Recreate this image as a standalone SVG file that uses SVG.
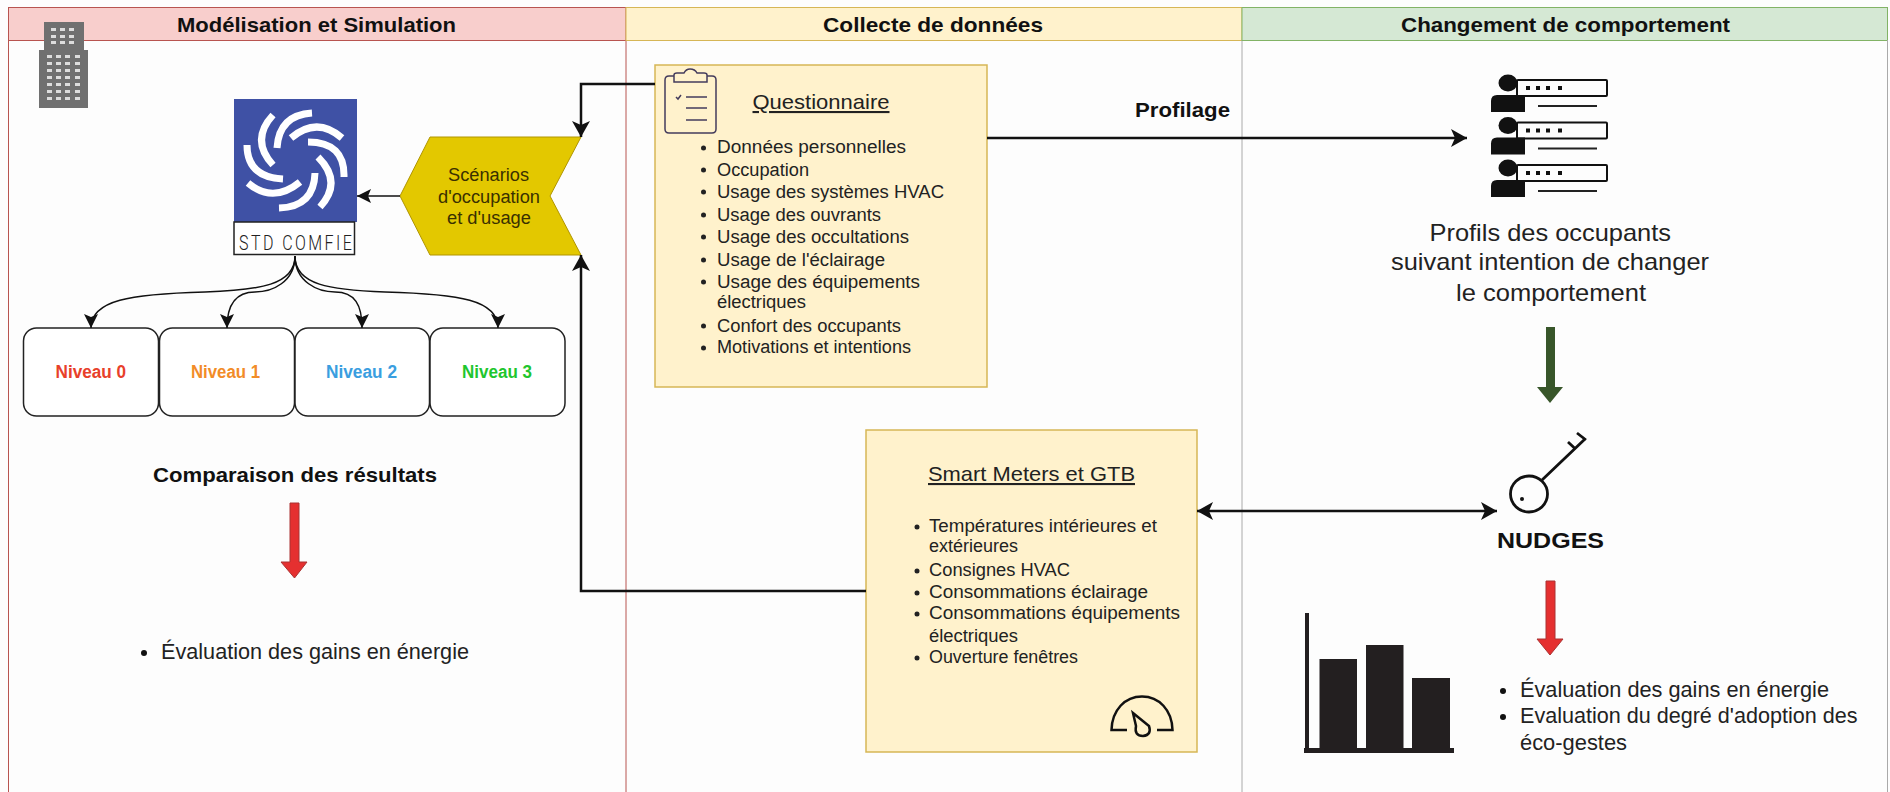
<svg xmlns="http://www.w3.org/2000/svg" width="1890" height="792" viewBox="0 0 1890 792">
<style>
text{font-family:"Liberation Sans",Arial,sans-serif;fill:#1c1c1c}
.h{font-size:21px;font-weight:700;fill:#111}
.l{font-size:18px;fill:#222}
.t{font-size:21px;fill:#222;text-decoration:underline}
.p{font-size:24px;fill:#222}
.e{font-size:22px;fill:#222}
.n{font-size:18px;font-weight:700}
.s{font-size:18px;fill:#3a3000}
.box{fill:#fff2cc;stroke:#d6b656;stroke-width:1.5}
.lvl{fill:#fff;stroke:#222;stroke-width:1.5}
.c{fill:none;stroke:#111;stroke-width:1.5}
.c2{fill:none;stroke:#111;stroke-width:2.5}
.w{fill:none;stroke:#fff;stroke-width:7}
.ic{fill:none;stroke:#111;stroke-width:2}
.k{fill:#111}
</style>
<defs>
<marker id="a" markerUnits="userSpaceOnUse" markerWidth="20" markerHeight="20" refX="16" refY="9" orient="auto-start-reverse" viewBox="0 0 20 18"><path d="M0 0L16 9L0 18L4 9Z" fill="#111"/></marker>
<marker id="b" markerUnits="userSpaceOnUse" markerWidth="18" markerHeight="18" refX="14" refY="7" orient="auto-start-reverse" viewBox="0 0 18 14"><path d="M0 0L14 7L0 14L3 7Z" fill="#111"/></marker>
</defs>
<rect width="1890" height="792" fill="#fdfdfd"/>

<g id="pool-modelisation">
<rect x="8.5" y="7.5" width="617.5" height="33" fill="#f8cecc" stroke="#b85450"/>
<path d="M8.5 40V792M626 40V792" fill="none" stroke="#b85450" stroke-width="1"/>
<text class="h" x="177" y="32" textLength="279" lengthAdjust="spacingAndGlyphs">Modélisation et Simulation</text>
</g>
<g id="pool-collecte">
<rect x="626" y="7.5" width="616" height="33" fill="#fff2cc" stroke="#d6b656"/>
<path d="M1242 40V792" fill="none" stroke="#aaa" stroke-width="1"/>
<text class="h" x="823" y="32" textLength="220" lengthAdjust="spacingAndGlyphs">Collecte de données</text>
</g>
<g id="pool-changement">
<rect x="1242" y="7.5" width="645.500" height="33" fill="#d5e8d4" stroke="#82b366"/>
<path d="M1887.500 40V792" fill="none" stroke="#aaa" stroke-width="1"/>
<text class="h" x="1401" y="32" textLength="329" lengthAdjust="spacingAndGlyphs">Changement de comportement</text>
</g>

<g id="building">
<path d="M44 22H84V50H88V108H39V50H44Z" fill="#707070"/>
<path fill="#ddd" d="M51 28h5v3h-5zM60 28h5v3h-5zM69 28h5v3h-5zM51 35h5v3h-5zM60 35h5v3h-5zM69 35h5v3h-5zM51 41h5v3h-5zM60 41h5v3h-5zM69 41h5v3h-5z"/>
<path fill="#ddd" d="M47 55h5v3h-5zM56 55h5v3h-5zM65 55h5v3h-5zM75 55h5v3h-5zM47 62h5v3h-5zM56 62h5v3h-5zM65 62h5v3h-5zM75 62h5v3h-5zM47 69h5v3h-5zM56 69h5v3h-5zM65 69h5v3h-5zM75 69h5v3h-5zM47 76h5v3h-5zM56 76h5v3h-5zM65 76h5v3h-5zM75 76h5v3h-5zM47 83h5v3h-5zM56 83h5v3h-5zM65 83h5v3h-5zM75 83h5v3h-5zM47 90h5v3h-5zM56 90h5v3h-5zM65 90h5v3h-5zM75 90h5v3h-5zM47 97h5v3h-5zM56 97h5v3h-5zM65 97h5v3h-5zM75 97h5v3h-5z"/>
</g>

<g id="std-comfie">
<rect x="234" y="99" width="123" height="123" fill="#3f51a5"/>
<path class="w" d="M273 115Q250 140 273 165M312 113Q279 115 277 148M291 138Q317 116 342 138M308 142Q345 142 344 177M318 157Q343 182 320 207M315 173Q314 207 279 208M300 182Q273 204 248 183M283 179Q247 177 247 145"/>
<rect x="234" y="222" width="120.500" height="32.500" fill="#fff" stroke="#222" stroke-width="1.500"/>
<text transform="translate(239 250) scale(.8 1)" x="0" y="0" font-size="20" style="font-family:Roboto,'Liberation Sans',sans-serif;font-weight:300;fill:#222" textLength="141" lengthAdjust="spacing">STD COMFIE</text>
</g>

<g id="scenarios">
<path d="M581 137H430L400 196L430 255H581L550 196Z" fill="#e3c800" stroke="#b09500"/>
<text class="s" x="448" y="181" textLength="81" lengthAdjust="spacingAndGlyphs">Scénarios</text>
<text class="s" x="438" y="203" textLength="102" lengthAdjust="spacingAndGlyphs">d'occupation</text>
<text class="s" x="447" y="224" textLength="84" lengthAdjust="spacingAndGlyphs">et d'usage</text>
</g>

<g id="niveau-0"><rect class="lvl" x="23.500" y="328" width="135" height="88" rx="13"/><text class="n" x="55.500" y="378" textLength="70.500" lengthAdjust="spacingAndGlyphs" style="fill:#e8402a">Niveau 0</text></g>
<g id="niveau-1"><rect class="lvl" x="159.500" y="328" width="135" height="88" rx="13"/><text class="n" x="191" y="378" textLength="69" lengthAdjust="spacingAndGlyphs" style="fill:#f28c28">Niveau 1</text></g>
<g id="niveau-2"><rect class="lvl" x="295" y="328" width="134.500" height="88" rx="13"/><text class="n" x="326" y="378" textLength="71" lengthAdjust="spacingAndGlyphs" style="fill:#3a9ee0">Niveau 2</text></g>
<g id="niveau-3"><rect class="lvl" x="430" y="328" width="135" height="88" rx="13"/><text class="n" x="462" y="378" textLength="70" lengthAdjust="spacingAndGlyphs" style="fill:#1fc62e">Niveau 3</text></g>

<g id="comparaison">
<text class="h" x="153" y="482" textLength="284" lengthAdjust="spacingAndGlyphs">Comparaison des résultats</text>
<path d="M290 503H299V562H307L294.500 578L281 562H290Z" fill="#e53030" stroke="#a33" stroke-width="1"/>
<circle cx="144" cy="653" r="3" fill="#111"/>
<text class="e" x="161" y="659" textLength="308" lengthAdjust="spacingAndGlyphs">Évaluation des gains en énergie</text>
</g>

<g id="questionnaire">
<rect class="box" x="655" y="65" width="332" height="322"/>
<g fill="none" stroke="#443c5c" stroke-width="1.500">
<path d="M674 76H669Q665 76 665 80V129Q665 133 669 133H712Q716 133 716 129V80Q716 76 712 76H707"/>
<path d="M674 82V75Q674 73 677 73H684Q686 69 690 69Q695 69 697 73H704Q707 73 707 75V82Z"/>
<path d="M686 97H707M686 108H707M686 120H707"/>
<path d="M676 97L678 99L681 95"/>
</g>
<text class="t" x="752.500" y="109" textLength="137" lengthAdjust="spacingAndGlyphs">Questionnaire</text>
<g fill="#222"><circle cx="703.500" cy="148" r="2.500"/><circle cx="703.500" cy="170" r="2.500"/><circle cx="703.500" cy="192" r="2.500"/><circle cx="703.500" cy="215" r="2.500"/><circle cx="703.500" cy="237" r="2.500"/><circle cx="703.500" cy="260" r="2.500"/><circle cx="703.500" cy="282" r="2.500"/><circle cx="703.500" cy="326" r="2.500"/><circle cx="703.500" cy="348" r="2.500"/></g>
<text class="l" x="717" y="153" textLength="189" lengthAdjust="spacingAndGlyphs">Données personnelles</text>
<text class="l" x="717" y="176" textLength="92" lengthAdjust="spacingAndGlyphs">Occupation</text>
<text class="l" x="717" y="198" textLength="227" lengthAdjust="spacingAndGlyphs">Usage des systèmes HVAC</text>
<text class="l" x="717" y="221" textLength="164" lengthAdjust="spacingAndGlyphs">Usage des ouvrants</text>
<text class="l" x="717" y="243" textLength="192" lengthAdjust="spacingAndGlyphs">Usage des occultations</text>
<text class="l" x="717" y="266" textLength="168" lengthAdjust="spacingAndGlyphs">Usage de l'éclairage</text>
<text class="l" x="717" y="288" textLength="203" lengthAdjust="spacingAndGlyphs">Usage des équipements</text>
<text class="l" x="717" y="308" textLength="89" lengthAdjust="spacingAndGlyphs">électriques</text>
<text class="l" x="717" y="332" textLength="184" lengthAdjust="spacingAndGlyphs">Confort des occupants</text>
<text class="l" x="717" y="353" textLength="194" lengthAdjust="spacingAndGlyphs">Motivations et intentions</text>
</g>

<g id="smart-meters">
<rect class="box" x="866" y="430" width="331" height="322"/>
<text class="t" x="928" y="481" textLength="207" lengthAdjust="spacingAndGlyphs">Smart Meters et GTB</text>
<g fill="#222"><circle cx="917" cy="527" r="2.500"/><circle cx="917" cy="571" r="2.500"/><circle cx="917" cy="593" r="2.500"/><circle cx="917" cy="614" r="2.500"/><circle cx="917" cy="658" r="2.500"/></g>
<text class="l" x="929" y="532" textLength="228" lengthAdjust="spacingAndGlyphs">Températures intérieures et</text>
<text class="l" x="929" y="552" textLength="89" lengthAdjust="spacingAndGlyphs">extérieures</text>
<text class="l" x="929" y="576" textLength="141" lengthAdjust="spacingAndGlyphs">Consignes HVAC</text>
<text class="l" x="929" y="598" textLength="219" lengthAdjust="spacingAndGlyphs">Consommations éclairage</text>
<text class="l" x="929" y="619" textLength="251" lengthAdjust="spacingAndGlyphs">Consommations équipements</text>
<text class="l" x="929" y="642" textLength="89" lengthAdjust="spacingAndGlyphs">électriques</text>
<text class="l" x="929" y="663" textLength="149" lengthAdjust="spacingAndGlyphs">Ouverture fenêtres</text>
<path d="M1127 730H1111.500C1112 710 1125 696.500 1142 696.500C1159 696.500 1172 710 1172.500 730H1157" fill="none" stroke="#111" stroke-width="2.500"/>
<path d="M1133 713L1149 726Q1152 735 1143 736Q1134 736 1136 726Z" fill="none" stroke="#111" stroke-width="2.500"/>
</g>

<g id="profilage-label"><text class="h" x="1135" y="117" textLength="95" lengthAdjust="spacingAndGlyphs">Profilage</text></g>

<g id="profils">
<g id="p1">
<rect class="ic" x="1517" y="80" width="90" height="16" rx="1"/>
<ellipse class="k" cx="1508" cy="83" rx="9.500" ry="8.500"/>
<path class="k" d="M1491 112V101Q1491 95 1497 95H1525V112Z"/>
<path class="k" d="M1526 86h4v4h-4zM1536 86h4v4h-4zM1546 86h4v4h-4zM1558 86h4v4h-4z"/>
<path d="M1538 106H1597" stroke="#222" stroke-width="2"/>
</g>
<g transform="translate(0 42.500)">
<rect class="ic" x="1517" y="80" width="90" height="16" rx="1"/>
<ellipse class="k" cx="1508" cy="83" rx="9.500" ry="8.500"/>
<path class="k" d="M1491 112V101Q1491 95 1497 95H1525V112Z"/>
<path class="k" d="M1526 86h4v4h-4zM1536 86h4v4h-4zM1546 86h4v4h-4zM1558 86h4v4h-4z"/>
<path d="M1538 106H1597" stroke="#222" stroke-width="2"/>
</g>
<g transform="translate(0 85)">
<rect class="ic" x="1517" y="80" width="90" height="16" rx="1"/>
<ellipse class="k" cx="1508" cy="83" rx="9.500" ry="8.500"/>
<path class="k" d="M1491 112V101Q1491 95 1497 95H1525V112Z"/>
<path class="k" d="M1526 86h4v4h-4zM1536 86h4v4h-4zM1546 86h4v4h-4zM1558 86h4v4h-4z"/>
<path d="M1538 106H1597" stroke="#222" stroke-width="2"/>
</g>
<text class="p" x="1429.500" y="241" textLength="241.500" lengthAdjust="spacingAndGlyphs">Profils des occupants</text>
<text class="p" x="1391" y="270" textLength="318" lengthAdjust="spacingAndGlyphs">suivant intention de changer</text>
<text class="p" x="1456" y="301" textLength="190" lengthAdjust="spacingAndGlyphs">le comportement</text>
</g>

<g id="green-arrow"><path d="M1546 327H1555V387H1563L1550 403L1537 387H1546Z" fill="#38562a"/></g>

<g id="nudges">
<ellipse cx="1529" cy="494" rx="18.500" ry="18" fill="none" stroke="#111" stroke-width="2.800"/>
<circle cx="1522" cy="499" r="2" fill="#111"/>
<path d="M1542 480L1585 439M1568 442L1575 448.500M1577 433L1586 440" fill="none" stroke="#111" stroke-width="2.800"/>
<text class="h" x="1497" y="548" style="font-size:22px" textLength="107" lengthAdjust="spacingAndGlyphs">NUDGES</text>
</g>

<g id="red-arrow"><path d="M1546 581H1555V639H1563L1550 655L1537 639H1546Z" fill="#e53030" stroke="#a33" stroke-width="1"/></g>

<g id="chart" fill="#231f20">
<rect x="1305" y="613" width="4" height="140"/>
<rect x="1304" y="748" width="150" height="5"/>
<rect x="1319.500" y="659" width="37.500" height="90"/>
<rect x="1366" y="645" width="37.500" height="104"/>
<rect x="1412" y="678" width="38" height="71"/>
</g>

<g id="evaluation">
<circle cx="1503" cy="691" r="3" fill="#111"/><circle cx="1503" cy="717" r="3" fill="#111"/>
<text class="e" x="1520" y="697" textLength="309" lengthAdjust="spacingAndGlyphs">Évaluation des gains en énergie</text>
<text class="e" x="1520" y="723" textLength="337.500" lengthAdjust="spacingAndGlyphs">Evaluation du degré d'adoption des</text>
<text class="e" x="1520" y="750" textLength="107" lengthAdjust="spacingAndGlyphs">éco-gestes</text>
</g>

<g id="connectors">
<path class="c" marker-end="url(#b)" d="M400 196H357"/>
<path class="c" marker-end="url(#b)" d="M295 256C295 285 260 290 205 292C130 294 91 300 91 328"/>
<path class="c" marker-end="url(#b)" d="M295 256C295 282 272 292 255 292C235 292 227 305 227 328"/>
<path class="c" marker-end="url(#b)" d="M295 256C295 282 318 292 335 292C355 292 362 305 362 328"/>
<path class="c" marker-end="url(#b)" d="M295 256C295 285 330 290 385 292C460 294 498 300 498 328"/>
<path class="c2" marker-end="url(#a)" d="M655 84H581V137"/>
<path class="c2" marker-end="url(#a)" d="M866 591H581V255"/>
<path class="c2" marker-end="url(#a)" d="M987 138H1467"/>
<path class="c2" marker-start="url(#a)" marker-end="url(#a)" d="M1197 511H1497"/>
</g>
</svg>
